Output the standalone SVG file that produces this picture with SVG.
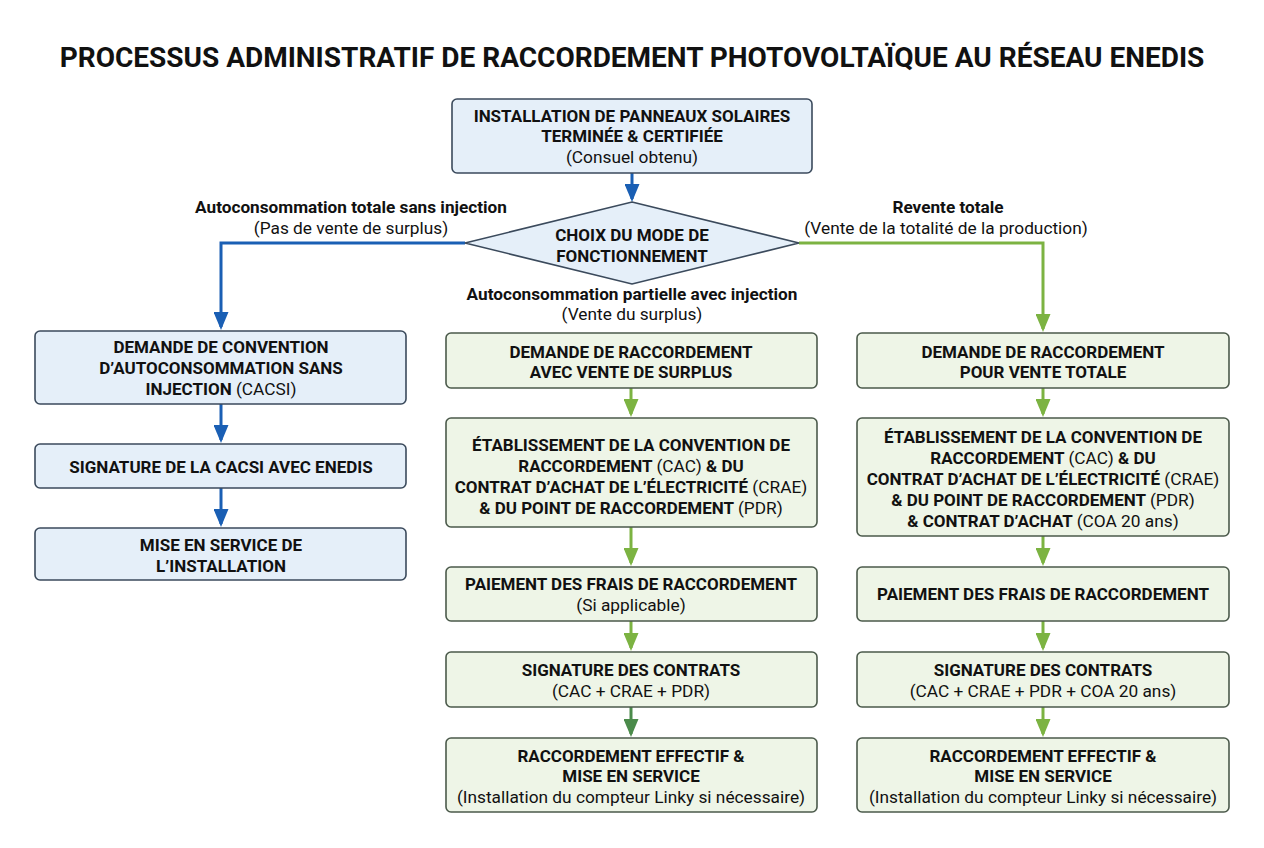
<svg xmlns="http://www.w3.org/2000/svg" width="1264" height="848" viewBox="0 0 1264 848">
<style>
text{font-family:Roboto,"Liberation Sans",sans-serif;text-anchor:middle;fill:#111}
.t{font-size:28px;font-weight:700}
.b{font-size:17px;font-weight:700}
.n{font-size:17.3px;font-weight:400}
.lb{font-size:17.2px;font-weight:700}
.blue{fill:#e5eff9;stroke:#3b4a5c;stroke-width:1.6}
.green{fill:#eef5e7;stroke:#4b5a4b;stroke-width:1.6}
.cb{stroke:#1a5fb4;stroke-width:3;fill:none}
.cg{stroke:#7cb342;stroke-width:3;fill:none}
.cd{stroke:#4b8b4b;stroke-width:3;fill:none}
</style>
<defs>
<marker id="ab" markerWidth="6" markerHeight="5" refX="5" refY="2.5" orient="auto" markerUnits="strokeWidth"><path d="M0,0 L6,2.5 L0,5 Z" fill="#1a5fb4"/></marker>
<marker id="ag" markerWidth="6" markerHeight="5" refX="5" refY="2.5" orient="auto" markerUnits="strokeWidth"><path d="M0,0 L6,2.5 L0,5 Z" fill="#7cb342"/></marker>
<marker id="ad" markerWidth="6" markerHeight="5" refX="5" refY="2.5" orient="auto" markerUnits="strokeWidth"><path d="M0,0 L6,2.5 L0,5 Z" fill="#4b8b4b"/></marker>
</defs>
<rect width="1264" height="848" fill="#fff"/>
<text class="t" x="632" y="67">PROCESSUS ADMINISTRATIF DE RACCORDEMENT PHOTOVOLTAÏQUE AU RÉSEAU ENEDIS</text>

<g id="connectors">
<path class="cb" d="M632,173 V199" marker-end="url(#ab)"/>
<path class="cb" d="M465,243 H221 V327" marker-end="url(#ab)"/>
<path class="cg" d="M799,243 H1043 V329" marker-end="url(#ag)"/>
<path class="cb" d="M221,404 V440" marker-end="url(#ab)"/>
<path class="cb" d="M221,488 V524" marker-end="url(#ab)"/>
<path class="cg" d="M631,388 V414" marker-end="url(#ag)"/>
<path class="cg" d="M631,527 V563" marker-end="url(#ag)"/>
<path class="cg" d="M631,621 V648" marker-end="url(#ag)"/>
<path class="cd" d="M631,707 V734" marker-end="url(#ad)"/>
<path class="cg" d="M1043,388 V414" marker-end="url(#ag)"/>
<path class="cg" d="M1043,536 V563" marker-end="url(#ag)"/>
<path class="cg" d="M1043,621 V648" marker-end="url(#ag)"/>
<path class="cg" d="M1043,707 V734" marker-end="url(#ag)"/>
</g>

<g id="labels">
<text class="lb" x="351" y="213">Autoconsommation totale sans injection</text>
<text class="n" x="351" y="234">(Pas de vente de surplus)</text>
<text class="lb" x="948" y="213">Revente totale</text>
<text class="n" x="946" y="234">(Vente de la totalité de la production)</text>
<text class="lb" x="632" y="300">Autoconsommation partielle avec injection</text>
<text class="n" x="632" y="320">(Vente du surplus)</text>
</g>

<g id="start">
<rect class="blue" x="452" y="99" width="360" height="74" rx="5"/>
<text class="b" x="632" y="122">INSTALLATION DE PANNEAUX SOLAIRES</text>
<text class="b" x="632" y="142">TERMINÉE &amp; CERTIFIÉE</text>
<text class="n" x="632" y="163">(Consuel obtenu)</text>
</g>

<g id="decision">
<polygon class="blue" points="632,202 799,243 632,284 465,243"/>
<text class="b" x="632" y="241">CHOIX DU MODE DE</text>
<text class="b" x="632" y="262">FONCTIONNEMENT</text>
</g>

<g id="l1">
<rect class="blue" x="35" y="331" width="371" height="73" rx="5"/>
<text class="b" x="221" y="353">DEMANDE DE CONVENTION</text>
<text class="b" x="221" y="374">D’AUTOCONSOMMATION SANS</text>
<text class="b" x="221" y="395">INJECTION <tspan class="n">(CACSI)</tspan></text>
</g>
<g id="l2">
<rect class="blue" x="35" y="444" width="371" height="44" rx="5"/>
<text class="b" x="221" y="473">SIGNATURE DE LA CACSI AVEC ENEDIS</text>
</g>
<g id="l3">
<rect class="blue" x="35" y="528" width="371" height="52" rx="5"/>
<text class="b" x="221" y="551">MISE EN SERVICE DE</text>
<text class="b" x="221" y="572">L’INSTALLATION</text>
</g>

<g id="m1">
<rect class="green" x="446" y="333" width="371" height="55" rx="5"/>
<text class="b" x="631" y="358">DEMANDE DE RACCORDEMENT</text>
<text class="b" x="631" y="378">AVEC VENTE DE SURPLUS</text>
</g>
<g id="m2">
<rect class="green" x="446" y="418" width="371" height="109" rx="5"/>
<text class="b" x="631" y="451">ÉTABLISSEMENT DE LA CONVENTION DE</text>
<text class="b" x="631" y="472">RACCORDEMENT <tspan class="n">(CAC)</tspan> &amp; DU</text>
<text class="b" x="631" y="493">CONTRAT D’ACHAT DE L’ÉLECTRICITÉ <tspan class="n">(CRAE)</tspan></text>
<text class="b" x="631" y="514">&amp; DU POINT DE RACCORDEMENT <tspan class="n">(PDR)</tspan></text>
</g>
<g id="m3">
<rect class="green" x="446" y="567" width="371" height="54" rx="5"/>
<text class="b" x="631" y="590">PAIEMENT DES FRAIS DE RACCORDEMENT</text>
<text class="n" x="631" y="611">(Si applicable)</text>
</g>
<g id="m4">
<rect class="green" x="446" y="652" width="371" height="55" rx="5"/>
<text class="b" x="631" y="676">SIGNATURE DES CONTRATS</text>
<text class="n" x="631" y="697">(CAC + CRAE + PDR)</text>
</g>
<g id="m5">
<rect class="green" x="446" y="738" width="371" height="74" rx="5"/>
<text class="b" x="631" y="762">RACCORDEMENT EFFECTIF &amp;</text>
<text class="b" x="631" y="782">MISE EN SERVICE</text>
<text class="n" x="631" y="803">(Installation du compteur Linky si nécessaire)</text>
</g>

<g id="r1">
<rect class="green" x="857" y="333" width="372" height="55" rx="5"/>
<text class="b" x="1043" y="358">DEMANDE DE RACCORDEMENT</text>
<text class="b" x="1043" y="378">POUR VENTE TOTALE</text>
</g>
<g id="r2">
<rect class="green" x="857" y="418" width="372" height="118" rx="5"/>
<text class="b" x="1043" y="443">ÉTABLISSEMENT DE LA CONVENTION DE</text>
<text class="b" x="1043" y="464">RACCORDEMENT <tspan class="n">(CAC)</tspan> &amp; DU</text>
<text class="b" x="1043" y="485">CONTRAT D’ACHAT DE L’ÉLECTRICITÉ <tspan class="n">(CRAE)</tspan></text>
<text class="b" x="1043" y="506">&amp; DU POINT DE RACCORDEMENT <tspan class="n">(PDR)</tspan></text>
<text class="b" x="1043" y="527">&amp; CONTRAT D’ACHAT <tspan class="n">(COA 20 ans)</tspan></text>
</g>
<g id="r3">
<rect class="green" x="857" y="567" width="372" height="54" rx="5"/>
<text class="b" x="1043" y="600">PAIEMENT DES FRAIS DE RACCORDEMENT</text>
</g>
<g id="r4">
<rect class="green" x="857" y="652" width="372" height="55" rx="5"/>
<text class="b" x="1043" y="676">SIGNATURE DES CONTRATS</text>
<text class="n" x="1043" y="697">(CAC + CRAE + PDR + COA 20 ans)</text>
</g>
<g id="r5">
<rect class="green" x="857" y="738" width="372" height="74" rx="5"/>
<text class="b" x="1043" y="762">RACCORDEMENT EFFECTIF &amp;</text>
<text class="b" x="1043" y="782">MISE EN SERVICE</text>
<text class="n" x="1043" y="803">(Installation du compteur Linky si nécessaire)</text>
</g>
</svg>
